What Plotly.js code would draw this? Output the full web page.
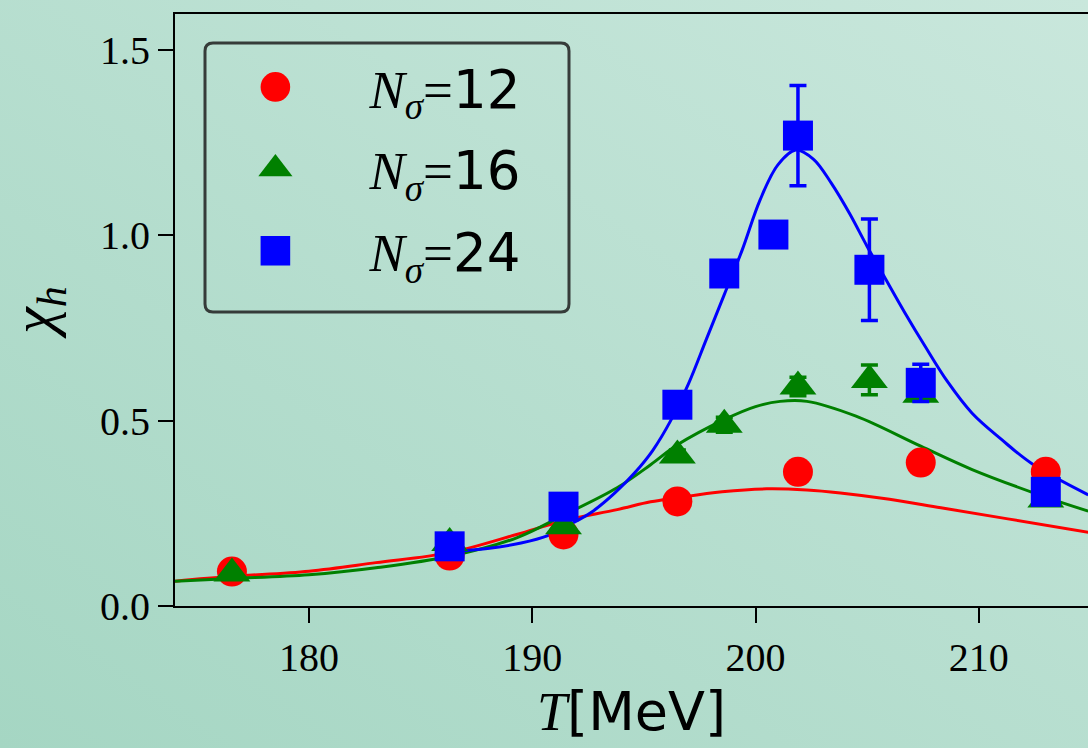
<!DOCTYPE html>
<html>
<head>
<meta charset="utf-8">
<script src="https://cdn.plot.ly/plotly-3.0.1.min.js"></script>
<style>
  html, body { margin: 0; padding: 0; }
  body { width: 1088px; height: 748px; background: linear-gradient(to top right, #a5d6c3, #c9e7dc); overflow: hidden; }
  #chart { width: 1088px; height: 748px; }
</style>
</head>
<body>
<div id="chart"></div>
<script>
// ---- data points ----
const T12 = [176.55, 186.3, 191.4, 196.5, 201.9, 207.4, 213.0];
const chi12 = [0.093, 0.136, 0.193, 0.282, 0.362, 0.387, 0.362];
const err12 = [0.004, 0.004, 0.004, 0.005, 0.006, 0.006, 0.006];

const T16 = [176.55, 186.3, 191.4, 196.5, 198.6, 201.9, 205.1, 207.4, 213.0];
const chi16 = [0.088, 0.17, 0.215, 0.406, 0.489, 0.592, 0.61, 0.57, 0.287];
const err16 = [0.005, 0.01, 0.008, 0.015, 0.02, 0.025, 0.04, 0.015, 0.01];

const T24 = [186.3, 191.4, 196.5, 198.6, 200.8, 201.9, 205.1, 207.4, 213.0];
const chi24 = [0.161, 0.268, 0.543, 0.897, 1.002, 1.269, 0.907, 0.602, 0.308];
const err24 = [0.005, 0.006, 0.02, 0.015, 0.012, 0.135, 0.137, 0.05, 0.01];

// ---- fit curves ----
const fitT12 = [174.0, 176.55, 180.0, 183.0, 186.3, 189.3, 191.4, 193.8, 195.3, 196.5, 198.5, 200.5, 202.3, 203.8, 206.0, 208.3, 211.3, 214.9];
const fitChi12 = [0.067, 0.08, 0.094, 0.117, 0.144, 0.193, 0.23, 0.26, 0.281, 0.292, 0.308, 0.316, 0.313, 0.305, 0.288, 0.265, 0.235, 0.199];

const fitT16 = [174.0, 176.55, 180.0, 183.0, 186.3, 189.3, 191.4, 193.8, 195.3, 196.5, 198.6, 200.0, 201.1, 202.3, 204.5, 207.4, 209.7, 212.7, 214.9];
const fitChi16 = [0.067, 0.074, 0.084, 0.103, 0.134, 0.184, 0.245, 0.319, 0.381, 0.435, 0.503, 0.538, 0.552, 0.552, 0.512, 0.431, 0.368, 0.30, 0.256];

const fitT24 = [186.3, 188.0, 189.5, 190.7, 191.7, 192.7, 193.7, 194.6, 195.4, 196.2, 197.0, 197.8, 198.6, 199.4, 200.2, 201.0, 201.8, 202.6, 203.4, 204.2, 205.0, 205.8, 206.7, 207.6, 208.6, 209.7, 211.0, 212.4, 214.9];
const fitChi24 = [0.147, 0.155, 0.17, 0.19, 0.22, 0.255, 0.305, 0.36, 0.42, 0.50, 0.60, 0.72, 0.84, 0.96, 1.095, 1.19, 1.23, 1.205, 1.14, 1.06, 0.97, 0.885, 0.79, 0.70, 0.605, 0.52, 0.45, 0.383, 0.30];

const xTicks = [180, 190, 200, 210];
const yTicks = [0.0, 0.5, 1.0, 1.5];
const labels = ['12', '16', '24'];

const SERIF = "'Liberation Serif', 'DejaVu Serif', serif";
function legendName(n) {
  return '<span style="font-family:Liberation Serif"><i>N</i><sub><i>σ</i></sub>=</span>' + n;
}

function pts(x, y, e, color, symbol, size, name, grp) {
  return {
    type: 'scatter', mode: 'markers', x: x, y: y, name: name,
    legendgroup: grp,
    marker: {color: color, symbol: symbol, size: size, line: {width: 0}},
    error_y: {type: 'data', array: e, visible: true, color: color, thickness: 3.5, width: 8.5},
    cliponaxis: false
  };
}
function fit(x, y, color, grp) {
  return {
    type: 'scatter', mode: 'lines', x: x, y: y, showlegend: false, legendgroup: grp,
    line: {color: color, width: 3, shape: 'spline', smoothing: 1}, hoverinfo: 'skip'
  };
}

const data = [
  fit(fitT12, fitChi12, '#ff0000', 'a'),
  fit(fitT16, fitChi16, '#008000', 'b'),
  fit(fitT24, fitChi24, '#0000ff', 'c'),
  pts(T12, chi12, err12, '#ff0000', 'circle', 30, legendName(labels[0]), 'a'),
  pts(T16, chi16, err16, '#008000', 'triangle-up', 32, legendName(labels[1]), 'b'),
  pts(T24, chi24, err24, '#0000ff', 'square', 30, legendName(labels[2]), 'c')
];

const r = 8; // corner radius in px
const pw = 913, ph = 592;
const lx0 = (205 - 175) / pw, lx1 = (569 - 175) / pw;
const ly1 = (606 - 43) / ph, ly0 = (606 - 312) / ph;
const rx = r / pw, ry = r / ph;
const boxPath = 'M ' + (lx0 + rx) + ' ' + ly1 +
  ' L ' + (lx1 - rx) + ' ' + ly1 + ' Q ' + lx1 + ' ' + ly1 + ' ' + lx1 + ' ' + (ly1 - ry) +
  ' L ' + lx1 + ' ' + (ly0 + ry) + ' Q ' + lx1 + ' ' + ly0 + ' ' + (lx1 - rx) + ' ' + ly0 +
  ' L ' + (lx0 + rx) + ' ' + ly0 + ' Q ' + lx0 + ' ' + ly0 + ' ' + lx0 + ' ' + (ly0 + ry) +
  ' L ' + lx0 + ' ' + (ly1 - ry) + ' Q ' + lx0 + ' ' + ly1 + ' ' + (lx0 + rx) + ' ' + ly1 + ' Z';

const layout = {
  width: 1088, height: 748,
  margin: {l: 175, r: 0, t: 14, b: 142},
  paper_bgcolor: 'rgba(0,0,0,0)',
  plot_bgcolor: 'rgba(0,0,0,0)',
  showlegend: true,
  legend: {
    x: 0.007, y: 0.946, xanchor: 'left', yanchor: 'top',
    bgcolor: 'rgba(0,0,0,0)', borderwidth: 0,
    font: {family: "'DejaVu Sans', sans-serif", size: 53, color: '#000'},
    traceorder: 'grouped', tracegroupgap: 10, itemwidth: 178
  },
  shapes: [{
    type: 'path', xref: 'paper', yref: 'paper', path: boxPath,
    line: {color: 'rgba(30,30,30,0.85)', width: 3}, fillcolor: 'rgba(0,0,0,0)', layer: 'above'
  }],
  xaxis: {
    range: [174, 214.89], tickvals: xTicks, ticktext: xTicks.map(String),
    ticks: 'outside', ticklen: 15, tickwidth: 2, tickcolor: '#000',
    showline: true, linecolor: '#000', linewidth: 2, mirror: true,
    showgrid: false, zeroline: false,
    tickfont: {family: SERIF, size: 40, color: '#000'},
    title: {text: '<span style="font-family:Liberation Serif"><i>T</i></span>[MeV]',
            font: {family: "'DejaVu Sans', sans-serif", size: 54, color: '#000'}, standoff: 10}
  },
  yaxis: {
    range: [0, 1.597], tickvals: yTicks, ticktext: yTicks.map(v => v.toFixed(1)),
    ticks: 'outside', ticklen: 15, tickwidth: 2, tickcolor: '#000',
    showline: true, linecolor: '#000', linewidth: 2, mirror: false,
    showgrid: false, zeroline: false,
    tickfont: {family: SERIF, size: 40, color: '#000'},
    title: {text: '<i>χ</i><sub><i>h</i></sub>', font: {family: SERIF, size: 60, color: '#000'}, standoff: 30}
  }
};

Plotly.newPlot('chart', data, layout, {displayModeBar: false, staticPlot: true}).then(function () {
  document.querySelectorAll('.legend .legendpoints path.scatterpts').forEach(function (p) {
    const t = p.getAttribute('transform') || '';
    p.setAttribute('transform', t + ' scale(1.85)');
  });
});
</script>
</body>
</html>
